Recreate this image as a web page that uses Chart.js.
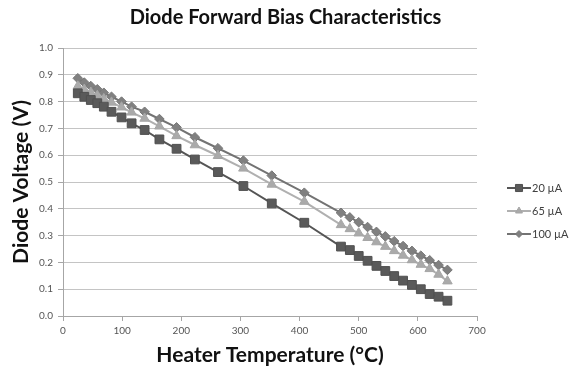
<!DOCTYPE html>
<html><head><meta charset="utf-8">
<script src="https://cdn.jsdelivr.net/npm/chart.js@4.4.0/dist/chart.umd.min.js"></script>
<style>html,body{margin:0;padding:0;background:#fff;}#wrap{width:571px;height:371px;}</style>
</head><body><div id="wrap"><canvas id="c" width="571" height="371"></canvas></div>
<script>
const temperatures = [25, 36, 47, 58, 69, 82, 99, 116, 138, 163, 192, 223, 262, 305, 353, 408, 470, 485, 500, 515, 530, 545, 560, 575, 590, 605, 620, 635, 650];
const v20 = [0.831, 0.818, 0.806, 0.794, 0.781, 0.762, 0.741, 0.719, 0.694, 0.659, 0.624, 0.584, 0.537, 0.485, 0.420, 0.348, 0.259, 0.246, 0.224, 0.206, 0.187, 0.168, 0.149, 0.132, 0.116, 0.100, 0.082, 0.072, 0.057];
const v65 = [0.857, 0.845, 0.834, 0.822, 0.810, 0.797, 0.779, 0.760, 0.737, 0.708, 0.672, 0.638, 0.598, 0.551, 0.491, 0.427, 0.340, 0.325, 0.309, 0.292, 0.276, 0.259, 0.243, 0.226, 0.209, 0.192, 0.176, 0.155, 0.130];
const v100 = [0.887, 0.871, 0.858, 0.846, 0.833, 0.818, 0.800, 0.781, 0.762, 0.735, 0.704, 0.667, 0.626, 0.580, 0.524, 0.460, 0.385, 0.368, 0.350, 0.332, 0.314, 0.297, 0.279, 0.261, 0.243, 0.225, 0.208, 0.190, 0.172];
const seriesLabels = ['20 µA', '65 µA', '100 µA'];
const chartTitle = 'Diode Forward Bias Characteristics';
const xTitle = 'Heater Temperature (°C)';
const yTitle = 'Diode Voltage (V)';

const FONT = "Lato, 'Open Sans', sans-serif";
function pts(vals){ return temperatures.map((t,i)=>({x:t,y:vals[i]})); }

const sideLegend = {
  id: 'sideLegend',
  afterDraw(chart){
    const ctx = chart.ctx;
    const ys = [188, 211, 234];
    chart.data.datasets.forEach((ds, i) => {
      const y = ys[i], x0 = 507, x1 = 531, xm = 519;
      ctx.save();
      ctx.strokeStyle = ds.borderColor; ctx.lineWidth = 2;
      ctx.beginPath(); ctx.moveTo(x0, y); ctx.lineTo(x1, y); ctx.stroke();
      ctx.fillStyle = ds.pointBackgroundColor; ctx.strokeStyle = ds.pointBorderColor; ctx.lineWidth = 1;
      Chart.helpers.drawPoint(ctx, {pointStyle: ds.pointStyle, radius: ds.legendRadius, borderWidth: 1, rotation: 0}, xm, y);
      ctx.fillStyle = '#404040';
      ctx.font = "11px " + FONT;
      ctx.textBaseline = 'middle'; ctx.textAlign = 'left';
      ctx.fillText(ds.label, 532, y);
      ctx.restore();
    });
  }
};

new Chart(document.getElementById('c'), {
  type: 'line',
  data: {
    datasets: [
      {label: seriesLabels[0], data: pts(v20), borderColor: '#555555', backgroundColor: '#5a5a5a', pointBackgroundColor: '#5a5a5a', pointBorderColor: '#505050', pointStyle: 'rect', pointRadius: 6.2, legendRadius: 5, borderWidth: 2, pointBorderWidth: 1},
      {label: seriesLabels[1], data: pts(v65), borderColor: '#b0b0b0', backgroundColor: '#aaaaaa', pointBackgroundColor: '#aaaaaa', pointBorderColor: '#a6a6a6', pointStyle: 'triangle', pointRadius: 5.5, legendRadius: 4, borderWidth: 2, pointBorderWidth: 1},
      {label: seriesLabels[2], data: pts(v100), borderColor: '#737373', backgroundColor: '#808080', pointBackgroundColor: '#808080', pointBorderColor: '#777777', pointStyle: 'rectRot', pointRadius: 4.8, legendRadius: 3.5, borderWidth: 2, pointBorderWidth: 1}
    ]
  },
  options: {
    responsive: false, animation: false, devicePixelRatio: 1,
    layout: {padding: {left: 0, right: 0, top: 0, bottom: 0}},
    plugins: {
      legend: {display: false},
      tooltip: {enabled: false},
      title: {display: true, text: chartTitle, color: '#111', font: {family: FONT, size: 20, weight: 'bold', lineHeight: 1.2}, padding: {top: 6, bottom: 18}}
    },
    scales: {
      x: {
        type: 'linear', min: 0, max: 700,
        ticks: {stepSize: 100, color: '#555', font: {family: FONT, size: 10}, padding: 4, maxRotation: 0},
        grid: {drawOnChartArea: false, drawTicks: true, tickLength: 5, tickColor: '#a6a6a6'},
        border: {color: '#a6a6a6', width: 1},
        title: {display: true, text: xTitle, color: '#111', font: {family: FONT, size: 21, weight: 'bold', lineHeight: 1.2}, padding: {top: 2, bottom: 3}},
        afterFit(s){ s.height = 55; }
      },
      y: {
        min: 0, max: 1,
        ticks: {stepSize: 0.1, color: '#555', font: {family: FONT, size: 10}, padding: 5, callback: v => v.toFixed(1)},
        grid: {color: '#c4c4c4', drawTicks: true, tickLength: 5, tickColor: '#a6a6a6'},
        border: {color: '#a6a6a6', width: 1},
        title: {display: true, text: yTitle, color: '#111', font: {family: FONT, size: 21, weight: 'bold', lineHeight: 1.2}, padding: {top: 9, bottom: 2}},
        afterFit(s){ s.width = 63; }
      },
      legendSpace: {
        type: 'linear', position: 'right', display: true,
        ticks: {display: false}, grid: {display: false}, border: {display: false},
        afterFit(s){ s.width = 94; }
      }
    }
  },
  plugins: [sideLegend]
});
</script></body></html>
